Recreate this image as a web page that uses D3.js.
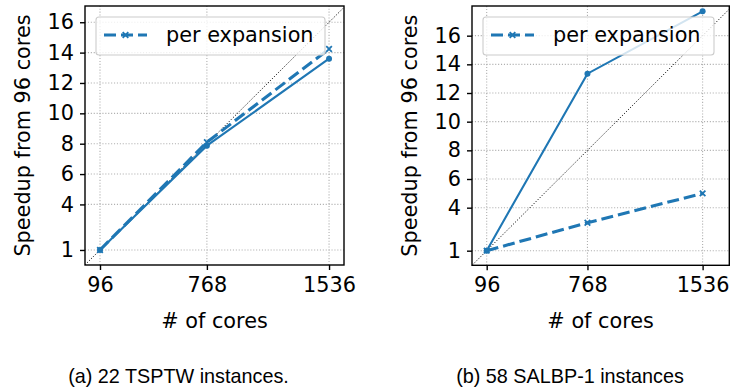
<!DOCTYPE html>
<html>
<head>
<meta charset="utf-8">
<script src="https://cdn.jsdelivr.net/npm/d3@7"></script>
<style>
  html, body { margin: 0; padding: 0; background: #fff; }
  svg { display: block; }
  text { font-family: "DejaVu Sans", sans-serif; fill: #000; }
  .caption { font-family: "Liberation Sans", Arial, sans-serif; }
</style>
</head>
<body>
<svg id="chart" width="731" height="392"></svg>
<script>
// ---------------- data ----------------
const cores = [96, 768, 1536];
const xTicks = [96, 768, 1536];
const yTicks = [1, 4, 6, 8, 10, 12, 14, 16];

const tsptwTotal = [1, 7.87, 13.6];
const tsptwPerExpansion = [1, 8.1, 14.24];
const salbpTotal = [1, 13.35, 17.7];
const salbpPerExpansion = [1, 2.95, 5.0];

const legendLabel = "per expansion";
const yLabel = "Speedup from 96 cores";
const xLabel = "# of cores";
const captions = ["(a) 22 TSPTW instances.", "(b) 58 SALBP-1 instances"];

// ---------------- layout ----------------
const panels = [
  { total: tsptwTotal, perExp: tsptwPerExpansion, caption: captions[0],
    xr: [85, 344], yr: [265, 6], xd: [1.7, 1630], yd: [0.01, 17.07],
    ylabX: 23, legend: { x: 96, y: 17, w: 229, h: 38 }, capX: 178.5 },
  { total: salbpTotal, perExp: salbpPerExpansion, caption: captions[1],
    xr: [472, 729.3], yr: [265.3, 6], xd: [-2, 1714], yd: [-0.02, 18.07],
    ylabX: 410, legend: { x: 483, y: 17, w: 231, h: 38 }, capX: 570 }
];

const color = "#1f77b4";
const svg = d3.select("#chart");
const fs = 20.8;

panels.forEach((p, i) => {
  const x = d3.scaleLinear().domain(p.xd).range(p.xr);
  const y = d3.scaleLinear().domain(p.yd).range(p.yr);
  const g = svg.append("g");
  const clipId = "clip" + i;
  svg.append("clipPath").attr("id", clipId).append("rect")
    .attr("x", p.xr[0]).attr("y", p.yr[1])
    .attr("width", p.xr[1] - p.xr[0]).attr("height", p.yr[0] - p.yr[1]);

  // grid
  const grid = g.append("g").attr("stroke", "#b0b0b0").attr("stroke-width", 1.1)
    .attr("stroke-dasharray", "1.1,1.8");
  grid.selectAll(".gx").data(xTicks).join("line")
    .attr("x1", d => x(d)).attr("x2", d => x(d)).attr("y1", p.yr[0]).attr("y2", p.yr[1]);
  grid.selectAll(".gy").data(yTicks).join("line")
    .attr("y1", d => y(d)).attr("y2", d => y(d)).attr("x1", p.xr[0]).attr("x2", p.xr[1]);

  const plot = g.append("g").attr("clip-path", `url(#${clipId})`);
  // ideal diagonal
  plot.append("line")
    .attr("x1", x(p.xd[0])).attr("y1", y(p.xd[0] / 96))
    .attr("x2", x(p.xd[1])).attr("y2", y(p.xd[1] / 96))
    .attr("stroke", "#000").attr("stroke-width", 1).attr("stroke-dasharray", "1.1,1.8");

  const line = d3.line().x((d, j) => x(cores[j])).y(d => y(d));
  // total (solid)
  plot.append("path").datum(p.total).attr("d", line)
    .attr("fill", "none").attr("stroke", color).attr("stroke-width", 2.1);
  plot.selectAll(".dot").data(p.total).join("circle")
    .attr("cx", (d, j) => x(cores[j])).attr("cy", d => y(d)).attr("r", 3).attr("fill", color);
  // per expansion (dashed)
  plot.append("path").datum(p.perExp).attr("d", line)
    .attr("fill", "none").attr("stroke", color).attr("stroke-width", 3.1)
    .attr("stroke-dasharray", "12,5");
  const xm = (cx, cy, s) => `M${cx - s},${cy - s}L${cx + s},${cy + s}M${cx - s},${cy + s}L${cx + s},${cy - s}`;
  plot.selectAll(".xm").data(p.perExp).join("path")
    .attr("d", (d, j) => xm(x(cores[j]), y(d), 2.8))
    .attr("stroke", color).attr("stroke-width", 1.8);

  // legend
  const L = p.legend;
  const lg = g.append("g");
  lg.append("rect").attr("x", L.x).attr("y", L.y).attr("width", L.w).attr("height", L.h)
    .attr("rx", 3).attr("fill", "#fff").attr("fill-opacity", 0.8)
    .attr("stroke", "#cccccc").attr("stroke-width", 1.1);
  const ly = L.y + L.h / 2 - 1;
  lg.append("line").attr("x1", L.x + 8).attr("x2", L.x + 51).attr("y1", ly).attr("y2", ly)
    .attr("stroke", color).attr("stroke-width", 3.1).attr("stroke-dasharray", "12,5");
  lg.append("path").attr("d", xm(L.x + 29.5, ly, 2.8)).attr("stroke", color).attr("stroke-width", 1.8);
  lg.append("text").attr("x", L.x + 70).attr("y", ly).attr("dy", "0.35em")
    .attr("font-size", fs).text(legendLabel);

  // spines
  g.append("rect").attr("x", p.xr[0]).attr("y", p.yr[1])
    .attr("width", p.xr[1] - p.xr[0]).attr("height", p.yr[0] - p.yr[1])
    .attr("fill", "none").attr("stroke", "#000").attr("stroke-width", 1.4);

  // axes
  const xAxis = d3.axisBottom(x).tickValues(xTicks).tickSize(5).tickPadding(7).tickFormat(d3.format("d"));
  const xa = g.append("g").attr("transform", `translate(0,${p.yr[0]})`).call(xAxis);
  const yAxis = d3.axisLeft(y).tickValues(yTicks).tickSize(5).tickPadding(6).tickFormat(d3.format("d"));
  const ya = g.append("g").attr("transform", `translate(${p.xr[0]},0)`).call(yAxis);
  [xa, ya].forEach(a => {
    a.select(".domain").remove();
    a.selectAll(".tick line").attr("stroke", "#000").attr("stroke-width", 1.4);
    a.selectAll(".tick text").attr("font-size", fs).attr("font-family", "DejaVu Sans").attr("fill", "#000");
  });

  // labels
  g.append("text").attr("x", (p.xr[0] + p.xr[1]) / 2).attr("y", 328)
    .attr("text-anchor", "middle").attr("font-size", fs).text(xLabel);
  g.append("text")
    .attr("transform", `translate(${p.ylabX},${(p.yr[0] + p.yr[1]) / 2}) rotate(-90)`)
    .attr("text-anchor", "middle").attr("dy", "0.35em").attr("font-size", fs).text(yLabel);

  // caption
  g.append("text").attr("class", "caption").attr("x", p.capX).attr("y", 383)
    .attr("text-anchor", "middle").attr("font-size", 19.8).text(p.caption);
});
</script>
</body>
</html>
